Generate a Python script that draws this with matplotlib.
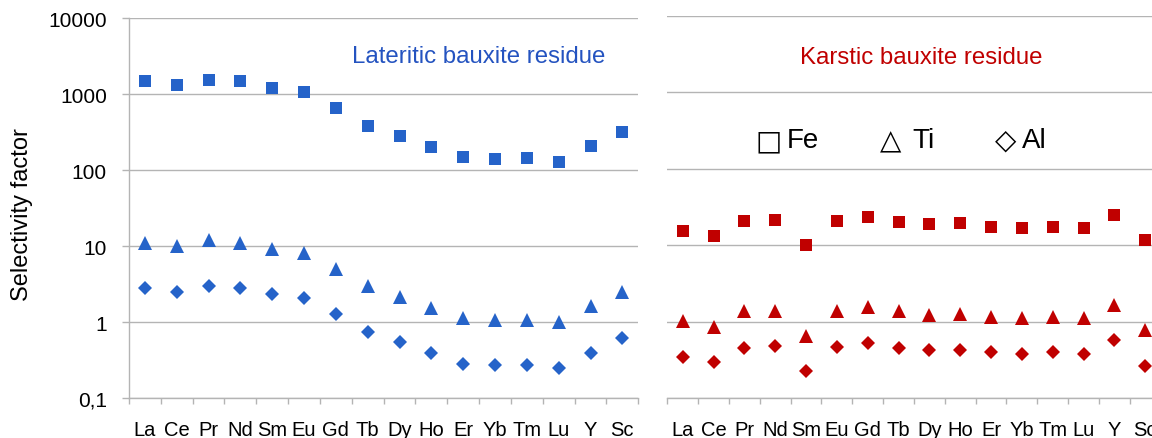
import matplotlib
matplotlib.use('Agg')
import matplotlib.pyplot as plt
from matplotlib.ticker import FixedLocator, NullFormatter

plt.rcParams['font.family'] = ['Liberation Sans', 'DejaVu Sans']

# 원소 (x축 범주)
elements = ['La', 'Ce', 'Pr', 'Nd', 'Sm', 'Eu', 'Gd', 'Tb', 'Dy', 'Ho',
            'Er', 'Yb', 'Tm', 'Lu', 'Y', 'Sc']

# Lateritic bauxite residue
lat_fe = [1480, 1325, 1555, 1480, 1220, 1080, 667, 385, 282, 204,
          151, 139, 143, 129, 210, 321]
lat_ti = [11.0, 10.1, 11.9, 11.1, 9.2, 8.0, 5.05, 2.96, 2.12, 1.52,
          1.13, 1.06, 1.07, 1.01, 1.61, 2.47]
lat_al = [2.84, 2.51, 3.01, 2.84, 2.34, 2.08, 1.28, 0.748, 0.541, 0.392,
          0.283, 0.272, 0.276, 0.248, 0.392, 0.611]

# Karstic bauxite residue
kar_fe = [15.3, 13.1, 20.6, 21.6, 10.1, 21.0, 23.2, 20.3, 19.0, 19.4,
          17.3, 16.6, 17.3, 17.0, 25.1, 11.7]
kar_ti = [1.03, 0.85, 1.37, 1.40, 0.645, 1.37, 1.56, 1.37, 1.23, 1.26,
          1.14, 1.11, 1.14, 1.11, 1.66, 0.78]
kar_al = [0.343, 0.295, 0.459, 0.488, 0.228, 0.47, 0.533, 0.46, 0.428, 0.428,
          0.40, 0.376, 0.40, 0.385, 0.578, 0.267]

y_ticks = [0.1, 1, 10, 100, 1000, 10000]
y_labels = ['0,1', '1', '10', '100', '1000', '10000']

BLUE = '#2563c9'
RED = '#c00000'
GRID = '#b4b4b4'

W, H = 1152, 439
fig = plt.figure(figsize=(W / 100, H / 100), dpi=100)


def px_box(x0, x1, ytop, ybot):
    return [x0 / W, 1 - ybot / H, (x1 - x0) / W, (ybot - ytop) / H]


ax1 = fig.add_axes(px_box(129, 638.3, 19.3, 399))
ax2 = fig.add_axes(px_box(667.3, 1160.6, 16.7, 399.3))

x = list(range(len(elements)))


def style_axis(ax, show_y):
    ax.set_yscale('log')
    ax.set_ylim(0.1, 10000)
    ax.set_xlim(-0.5, len(elements) - 0.5)
    ax.yaxis.set_major_locator(FixedLocator(y_ticks))
    ax.yaxis.set_minor_locator(FixedLocator([]))
    ax.grid(axis='y', color=GRID, linewidth=1.0)
    ax.set_axisbelow(True)
    for s in ['top', 'right']:
        ax.spines[s].set_visible(False)
    ax.spines['bottom'].set_color(GRID)
    ax.spines['bottom'].set_linewidth(1.0)
    if show_y:
        ax.spines['left'].set_color(GRID)
        ax.spines['left'].set_linewidth(1.0)
        ax.set_yticklabels(y_labels)
        ax.tick_params(axis='y', length=5, width=1.0, color=GRID,
                       pad=11, labelsize=15)
    else:
        ax.spines['left'].set_visible(False)
        ax.tick_params(axis='y', length=0, labelleft=False)
    # 경계 눈금 + 가운데 라벨
    ax.set_xticks([i - 0.5 for i in range(len(elements) + 1)])
    ax.xaxis.set_major_formatter(NullFormatter())
    ax.set_xticks(x, minor=True)
    ax.set_xticklabels(elements, minor=True)
    ax.tick_params(axis='x', which='major', length=4.5, width=1.0, color=GRID)
    ax.tick_params(axis='x', which='minor', length=0, pad=15.5, labelsize=14.5)


def draw(ax, fe, ti, al, color):
    ax.plot(x, fe, linestyle='none', marker='s', markersize=8.8,
            color=color, markeredgewidth=0, clip_on=False)
    ax.plot(x, ti, linestyle='none', marker='^', markersize=10,
            color=color, markeredgewidth=0, clip_on=False)
    ax.plot(x, al, linestyle='none', marker='D', markersize=7.4,
            color=color, markeredgewidth=0, clip_on=False)


style_axis(ax1, True)
style_axis(ax2, False)
draw(ax1, lat_fe, lat_ti, lat_al, BLUE)
draw(ax2, kar_fe, kar_ti, kar_al, RED)

fig.text(352 / W, 1 - 57 / H, 'Lateritic bauxite residue', color='#2453c0',
         fontsize=17.3, ha='left', va='center')
fig.text(800 / W, 1 - 58 / H, 'Karstic bauxite residue', color=RED,
         fontsize=17.3, ha='left', va='center')
fig.text(22 / W, 1 - 215 / H, 'Selectivity factor', rotation=90,
         fontsize=17, ha='center', va='center')

# 범례 (기호 + 원소)
legend_items = [('□', 'Fe', 755, 787), ('△', 'Ti', 880, 912), ('◇', 'Al', 995, 1022)]
for sym, lab, xs, xl in legend_items:
    fig.text(xs / W, 1 - 149 / H, sym, fontsize=20, family='DejaVu Sans',
             ha='left', va='baseline')
    fig.text(xl / W, 1 - 148 / H, lab, fontsize=20, ha='left', va='baseline')

fig.savefig('out.png', dpi=100)
